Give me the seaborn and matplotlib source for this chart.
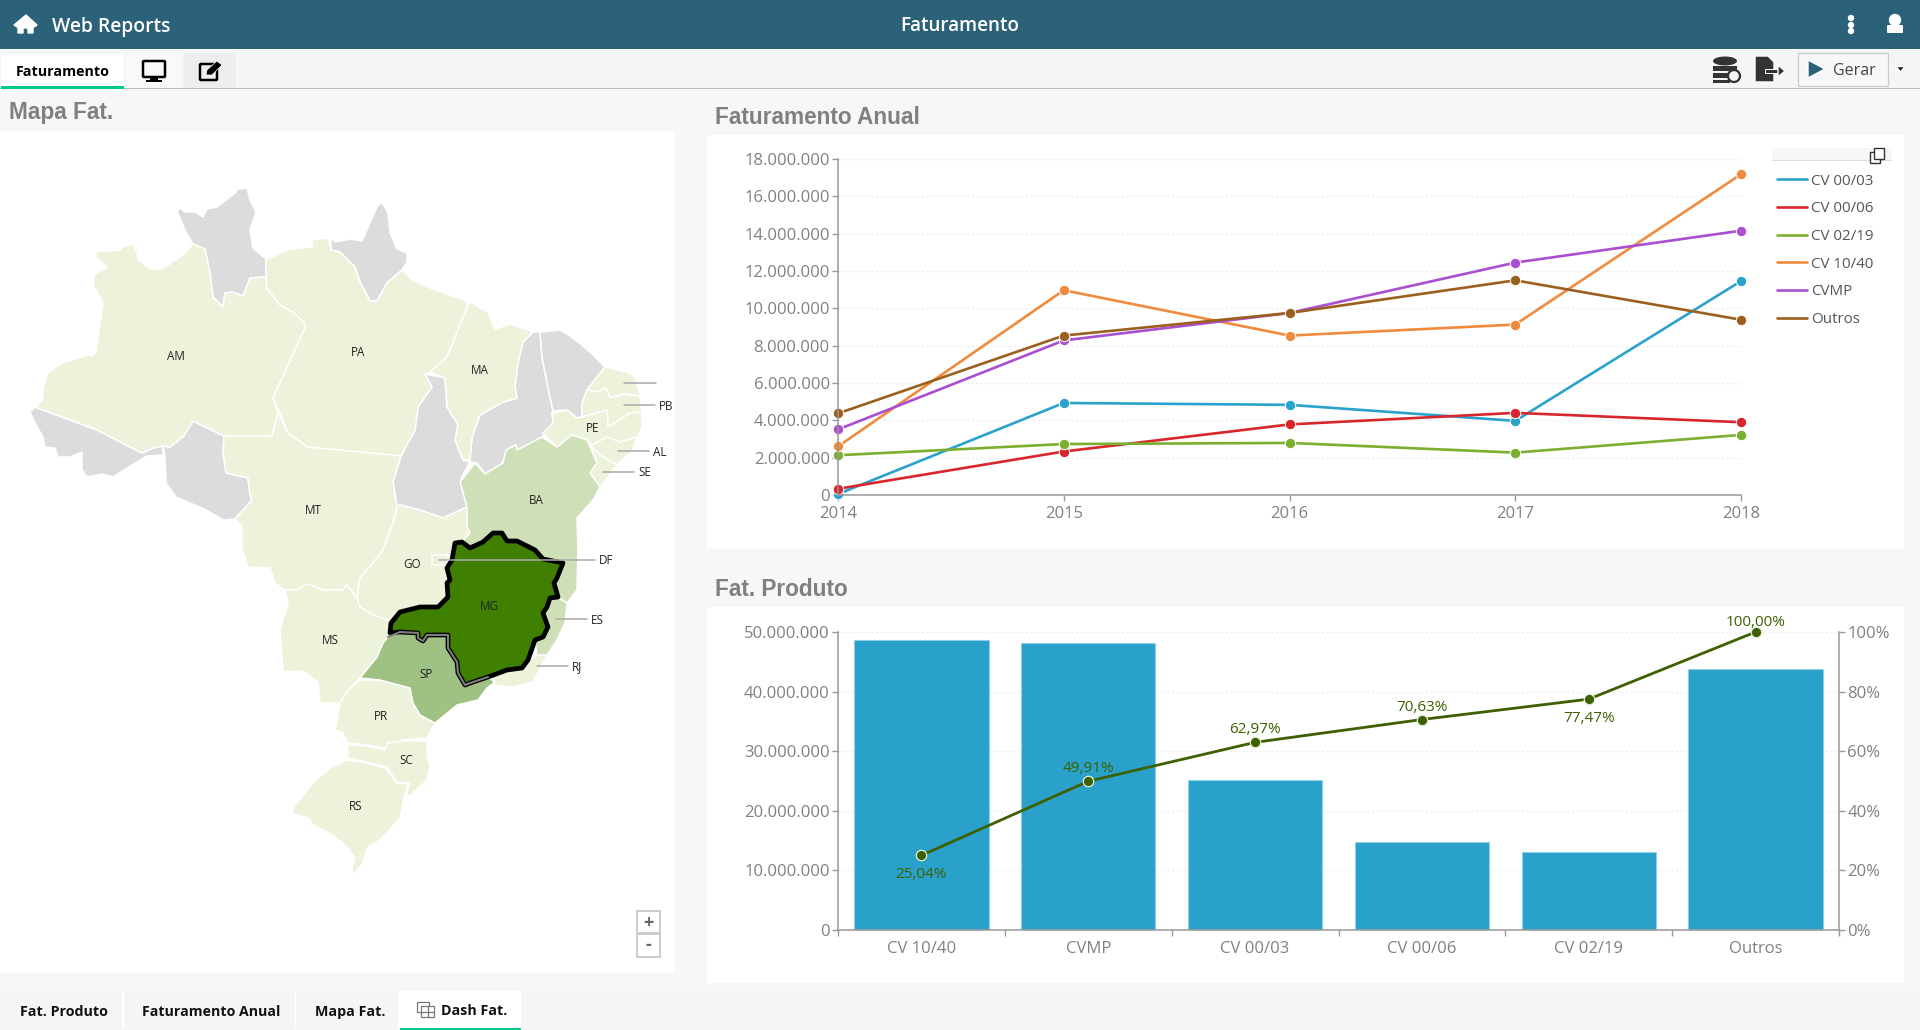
import matplotlib
matplotlib.use("Agg")
import matplotlib.pyplot as plt
import seaborn as sns
import pandas as pd
from matplotlib.patches import Polygon, Rectangle, Circle, FancyBboxPatch, Ellipse
from matplotlib.lines import Line2D
from matplotlib.ticker import FuncFormatter, FixedLocator, NullFormatter

# ---------- data ----------
years = [2014, 2015, 2016, 2017, 2018]
cv_0003 = [50000, 4930000, 4830000, 3970000, 11460000]
cv_0006 = [330000, 2330000, 3780000, 4400000, 3900000]
cv_0219 = [2130000, 2730000, 2790000, 2270000, 3220000]
cv_1040 = [2600000, 10970000, 8540000, 9130000, 17180000]
cvmp = [3510000, 8280000, 9750000, 12450000, 14160000]
outros = [4370000, 8540000, 9750000, 11500000, 9390000]
series_names = ["CV 00/03", "CV 00/06", "CV 02/19", "CV 10/40", "CVMP", "Outros"]
series_colors = ["#2AA2CC", "#D9262C", "#7CAF31", "#F08A3C", "#A94FD0", "#9B5F1E"]

products = ["CV 10/40", "CVMP", "CV 00/03", "CV 00/06", "CV 02/19", "Outros"]
product_totals = [48600000, 48200000, 25200000, 14700000, 13050000, 43800000]
cumulative_pct = [25.04, 49.91, 62.97, 70.63, 77.47, 100.00]
label_below = [True, False, False, False, True, False]

# map outlines
AM_xy = [(35,407),(43,400),(43,388),(48,373),(62,363),(88,355),(92,356),(96,352),(103,303),(93,285),(94,275),(98,272),(107,268),(96,257),(96,252),(120,250),(122,247),(132,244),(137,252),(138,260),(150,269),(162,269),(183,255),(193,244),(205,249),(210,273),(213,297),(223,307),(225,293),(232,292),(243,296),(250,278),(266,277),(267,288),(280,305),(293,312),(304,322),(305,328),(273,398),(278,413),(272,436),(224,436),(193,421),(183,437),(170,447),(163,446),(153,448),(142,453),(97,430),(70,420)]
AC_xy = [(30,412),(35,407),(70,420),(97,430),(142,453),(153,448),(163,446),(163,455),(147,456),(132,465),(113,477),(103,474),(87,477),(82,470),(82,452),(70,457),(58,457),(55,448),(45,447),(43,437),(35,423)]
RO_xy = [(193,421),(224,436),(223,453),(226,473),(248,478),(250,495),(252,500),(235,519),(224,520),(202,508),(176,497),(166,483),(165,457),(163,446),(170,447),(183,437)]
RR_xy = [(177,211),(180,208),(185,212),(195,212),(203,217),(207,209),(217,207),(235,193),(238,189),(247,188),(250,200),(256,212),(250,230),(253,248),(266,259),(266,277),(250,278),(243,296),(232,292),(225,293),(223,307),(213,297),(210,273),(205,249),(193,244),(186,232),(182,223)]
PA_xy = [(266,259),(272,257),(290,249),(312,247),(312,240),(328,238),(331,250),(340,252),(355,267),(360,282),(370,301),(377,301),(387,283),(402,270),(413,280),(430,288),(467,301),(467,308),(458,330),(447,357),(430,372),(425,374),(432,387),(418,407),(415,430),(401,456),(360,452),(307,447),(288,433),(280,413),(273,398),(305,328),(304,322),(293,312),(280,305),(267,288),(266,277)]
AP_xy = [(331,238),(335,242),(350,239),(362,241),(377,207),(382,202),(388,213),(390,233),(397,249),(407,253),(407,262),(402,270),(387,283),(377,301),(370,301),(360,282),(355,267),(340,252),(331,250)]
MA_xy = [(467,308),(468,303),(473,303),(480,308),(488,312),(495,329),(510,324),(533,332),(523,342),(518,363),(515,387),(517,398),(503,402),(480,415),(472,437),(470,460),(463,460),(455,440),(458,425),(447,407),(445,378),(430,372),(447,357),(458,330)]
TO_xy = [(425,374),(445,378),(447,407),(458,425),(455,440),(463,460),(470,462),(461,478),(467,507),(443,518),(420,510),(400,505),(397,507),(393,482),(401,456),(415,430),(418,407),(432,387)]
PI_xy = [(533,332),(540,332),(542,357),(547,383),(553,411),(552,413),(553,423),(542,437),(527,447),(517,450),(516,445),(506,450),(503,463),(485,474),(477,463),(470,462),(470,460),(472,437),(480,415),(503,402),(517,398),(515,387),(518,363),(523,342)]
CE_xy = [(540,332),(560,330),(573,338),(590,352),(605,367),(597,377),(587,390),(582,403),(582,417),(577,418),(567,410),(553,411),(547,383),(542,357)]
RN_xy = [(605,367),(627,372),(635,377),(640,396),(625,394),(617,396),(610,398),(606,388),(597,392),(587,390),(597,377)]
PB_xy = [(587,390),(597,392),(606,388),(610,398),(617,396),(625,394),(640,396),(642,412),(630,413),(608,427),(607,410),(582,417),(582,403)]
PE_xy = [(543,433),(553,423),(552,413),(567,410),(577,418),(582,417),(607,410),(608,427),(630,413),(642,412),(642,427),(637,437),(620,442),(607,437),(592,445),(587,440),(572,435),(557,447)]
AL_xy = [(592,445),(607,437),(620,442),(637,437),(633,450),(617,465),(600,455),(590,450)]
SE_xy = [(592,447),(600,455),(617,465),(600,487),(590,473),(597,463)]
BA_xy = [(460,482),(475,463),(485,474),(503,463),(506,450),(516,445),(517,450),(542,437),(557,447),(572,435),(587,440),(597,463),(590,473),(600,487),(593,500),(577,518),(578,550),(577,590),(567,603),(558,597),(554,583),(563,563),(543,559),(535,550),(517,541),(507,541),(502,533),(493,533),(483,542),(470,548),(462,542),(470,533),(467,527),(467,507)]
MT_xy = [(224,436),(272,436),(278,413),(288,433),(307,447),(360,452),(401,456),(393,482),(397,507),(393,523),(382,552),(360,578),(357,598),(347,585),(343,590),(323,590),(308,584),(297,590),(285,590),(275,583),(270,568),(248,567),(242,548),(242,527),(235,519),(252,500),(250,495),(248,478),(226,473),(223,453)]
GO_xy = [(397,507),(400,505),(420,510),(443,518),(467,507),(467,527),(470,533),(462,542),(455,543),(452,560),(447,568),(450,580),(447,583),(448,597),(438,607),(420,607),(400,612),(391,623),(388,620),(373,615),(360,607),(357,598),(360,578),(382,552),(393,523)]
DF_xy = [(432,555),(448,555),(448,565),(432,565)]
MS_xy = [(285,590),(297,590),(308,584),(323,590),(343,590),(347,585),(357,598),(360,607),(373,615),(388,620),(391,623),(388,637),(383,643),(377,657),(360,678),(348,690),(340,703),(320,703),(318,682),(303,671),(283,672),(282,657),(280,630),(288,603)]
SP_xy = [(388,637),(400,632),(418,633),(418,638),(423,641),(427,635),(448,635),(448,648),(457,662),(458,673),(465,685),(473,682),(488,677),(495,682),(487,688),(478,700),(457,705),(435,723),(420,715),(413,703),(410,688),(380,680),(360,678),(377,657),(383,643)]
RJ_xy = [(488,677),(507,670),(522,668),(528,662),(537,655),(547,655),(543,663),(533,682),(513,687),(493,685),(487,690),(495,682)]
ES_xy = [(535,640),(543,637),(548,627),(543,613),(547,607),(550,598),(558,597),(567,603),(565,623),(557,640),(547,655),(537,655)]
MG_xy = [(390,633),(391,623),(400,612),(420,607),(438,607),(448,597),(447,583),(450,580),(447,568),(452,560),(455,543),(462,542),(470,548),(483,542),(493,533),(502,533),(507,541),(517,541),(535,550),(543,559),(563,563),(557,578),(554,583),(558,597),(550,598),(547,607),(543,613),(548,627),(543,637),(535,640),(528,660),(522,668),(507,670),(488,677),(473,682),(465,685),(458,673),(457,662),(448,648),(448,635),(427,635),(423,641),(418,638),(418,633),(400,632)]
MG_SP_border = [(388,637),(400,632),(418,633),(418,638),(423,641),(427,635),(448,635),(448,648),(457,662),(458,673),(465,685),(473,682),(488,677)]
PR_xy = [(360,680),(380,680),(410,688),(413,703),(420,715),(435,723),(427,738),(403,740),(385,748),(367,745),(348,743),(343,733),(335,730),(340,703),(348,690)]
SC_xy = [(348,745),(367,746),(385,750),(387,743),(403,741),(427,741),(427,757),(430,767),(427,780),(413,793),(406,798),(409,783),(397,782),(387,767),(367,762),(348,758)]
RS_xy = [(347,760),(367,763),(385,768),(397,783),(408,784),(404,798),(400,818),(380,840),(367,848),(363,863),(353,875),(352,867),(355,858),(347,847),(333,835),(313,825),(308,818),(292,813),(293,808),(313,783),(330,768)]

GRAY, LIGHT, MID, STRONG, TOP = "#DCDCDC", "#EDF2DA", "#CFDFB7", "#9FC183", "#3F8000"
map_regions = [(AC_xy, GRAY), (RO_xy, GRAY), (RR_xy, GRAY), (AP_xy, GRAY), (TO_xy, GRAY), (PI_xy, GRAY), (CE_xy, GRAY),
               (AM_xy, LIGHT), (PA_xy, LIGHT), (MA_xy, LIGHT), (RN_xy, LIGHT), (PB_xy, LIGHT), (PE_xy, LIGHT),
               (AL_xy, LIGHT), (SE_xy, LIGHT), (MT_xy, LIGHT), (GO_xy, LIGHT), (DF_xy, LIGHT), (MS_xy, LIGHT),
               (RJ_xy, LIGHT), (ES_xy, MID), (PR_xy, LIGHT), (SC_xy, LIGHT), (RS_xy, LIGHT), (BA_xy, MID), (SP_xy, STRONG)]
map_labels = [("AM",176,356),("PA",358,352),("MA",480,371),("MT",313,510),("GO",412,564),("BA",536,501),("MG",489,607),
              ("MS",330,640),("SP",426,674),("PR",381,716),("SC",406,761),("RS",356,806),("PE",593,429)]
map_leaders = [("",624,656,383),("PB",624,655,405),("AL",618,649,451),("SE",603,634,472),("DF",439,595,560),("ES",556,587,619),("RJ",537,568,666)]

# ---------- theme ----------
sns.set_theme(style="white")
plt.rcParams["font.family"] = ["Open Sans", "DejaVu Sans"]
W, H = 1920, 1030
fig = plt.figure(figsize=(W / 100, H / 100), dpi=100, facecolor="#F7F7F7")


def axpx(x0, y0, x1, y1, **kw):
    return fig.add_axes([x0 / W, 1 - y1 / H, (x1 - x0) / W, (y1 - y0) / H], **kw)


# ---------- application chrome ----------
ui = axpx(0, 0, W, H, zorder=0)
ui.set_xlim(0, W); ui.set_ylim(H, 0); ui.axis("off")


def rect(x0, y0, x1, y1, fc, ec="none", lw=0, z=1):
    ui.add_patch(Rectangle((x0, y0), x1 - x0, y1 - y0, fc=fc, ec=ec, lw=lw, zorder=z))


HEAD = "#2C6279"
TEAL = "#00C98D"
rect(0, 0, W, 49, HEAD)
rect(0, 49, W, 88, "#F5F5F5")
rect(0, 88, W, 89.2, "#BDBDBD")
rect(0, 131, 675, 973, "white")
rect(707, 135, 1904, 549, "white")
rect(707, 607, 1904, 983, "white")
# tabs
rect(1, 53, 124, 88, "white"); rect(1, 85.5, 124, 88.5, TEAL)
rect(126, 53, 182, 88, "#F9F9F9"); rect(184, 53, 236, 88, "#EEEEEE")
rect(0, 991, W, H, "#F5F5F5")
rect(1, 991, 122, 1028, "#F5F5F5"); rect(122, 991, 124, 1028, "white")
rect(295, 991, 296, 1028, "white"); rect(398, 991, 400, 1028, "white")
rect(400, 991, 521, H, "white"); rect(400, 1027.5, 521, H, TEAL)


def label(x, y, s, size, color="black", weight="normal", ha="left", family=None):
    ui.text(x, y, s, fontsize=size, color=color, fontweight=weight, ha=ha, va="center",
            family=family or ["Open Sans", "DejaVu Sans"], zorder=6)


label(52, 27, "Web Reports", 13.9, "white", 600)
label(960, 26, "Faturamento", 13.6, "white", 600, "center")
label(62.5, 72.5, "Faturamento", 10.3, "black", "bold", "center")
label(64, 1012, "Fat. Produto", 10.3, "#111111", "bold", "center")
label(211, 1012, "Faturamento Anual", 10.2, "#111111", "bold", "center")
label(350, 1012, "Mapa Fat.", 10.3, "#111111", "bold", "center")
label(441, 1011, "Dash Fat.", 10.3, "#111111", "bold")
label(1833, 71, "Gerar", 11.5, "#444444")
label(9, 113, "Mapa Fat.", 16.3, "#808080", "bold", family=["Liberation Sans"])
label(715, 118, "Faturamento Anual", 16.3, "#808080", "bold", family=["Liberation Sans"])
label(715, 589, "Fat. Produto", 16.3, "#808080", "bold", family=["Liberation Sans"])

# icons
ui.add_patch(Polygon([(14, 25), (26, 15), (37, 25), (34, 27), (26, 20), (17, 27)], fc="white", zorder=5))
ui.add_patch(Polygon([(18, 26), (26, 20), (33, 26), (33, 33), (28, 33), (28, 28), (23, 28), (23, 33), (18, 33)], fc="white", zorder=5))
for yy in (18, 25, 31):
    ui.add_patch(Circle((1851, yy), 2.5, fc="white", zorder=5))
ui.add_patch(Circle((1895, 20), 5.5, fc="white", zorder=5))
ui.add_patch(FancyBboxPatch((1888, 26), 14, 6, boxstyle="round,pad=1", fc="white", ec="none", zorder=5))
# monitor
ui.add_patch(FancyBboxPatch((144, 62), 20, 14, boxstyle="round,pad=1", fc="none", ec="black", lw=1.8, zorder=5))
rect(150, 78, 158, 80, "black", z=5); rect(146, 80, 162, 81.5, "black", z=5)
# edit
ui.add_patch(FancyBboxPatch((201, 65), 15, 14, boxstyle="round,pad=1", fc="none", ec="black", lw=1.8, zorder=5))
ui.add_patch(Polygon([(206, 75), (207, 70), (217, 61), (222, 65), (212, 75)], fc="black", ec="white", lw=0.5, zorder=6))
# database
ui.add_patch(Ellipse((1725, 61), 24, 9, fc="#333333", ec="none", zorder=5))
rect(1713, 66, 1737, 71, "#333333", z=5)
rect(1713, 73, 1735, 78, "#333333", z=5)
rect(1713, 79.5, 1730, 83, "#333333", z=5)
ui.add_patch(Circle((1734, 76), 6, fc="#F5F5F5", ec="#333333", lw=1.6, zorder=6))
# export
ui.add_patch(Polygon([(1755, 56), (1768, 56), (1774, 62), (1774, 82), (1755, 82)], fc="#333333", zorder=5))
rect(1765, 69, 1780, 73, "#333333", ec="white", lw=0.7, z=6)
ui.add_patch(Polygon([(1778, 65), (1785, 71), (1778, 77)], fc="#333333", zorder=6))
# button
rect(1798, 53, 1887.5, 85.5, "#F7F7F7", ec="#CCCCCC", lw=0.9)
ui.add_patch(Polygon([(1808, 60), (1808, 78), (1825, 69)], fc="#2C6279", zorder=5))
ui.add_patch(Polygon([(1896, 66.5), (1905, 66.5), (1900.5, 72)], fc="#222222", zorder=5))
# dash-tab icon
rect(417, 1002, 429, 1012, "none", ec="#777777", lw=0.9, z=5)
rect(421, 1006, 434, 1017, "white", ec="#777777", lw=0.9, z=6)
ui.plot([427.5, 427.5], [1006, 1017], color="#777777", lw=0.9, zorder=7)
ui.plot([421, 434], [1011.5, 1011.5], color="#777777", lw=0.9, zorder=7)
# zoom control
rect(637, 911, 660, 933, "white", ec="#CCCCCC", lw=1.4, z=4)
rect(637, 934, 660, 957, "white", ec="#CCCCCC", lw=1.4, z=4)
label(648.5, 923, "+", 13, "#666666", "bold", "center")
label(648.5, 945, "-", 13, "#666666", "bold", "center")
# legend header
rect(1772, 148, 1892, 160, "#F6F6F6")
rect(1772, 160, 1892, 161, "#DDDDDD")
rect(1870, 152, 1880, 163, "white", ec="#333333", lw=1, z=5)
rect(1874, 148, 1884, 159, "white", ec="#333333", lw=1, z=6)

# ---------- map ----------
for pts, col in map_regions:
    ui.add_patch(Polygon(pts, closed=True, fc=col, ec="white", lw=1.1, joinstyle="round", zorder=2))
ui.add_patch(Polygon(MG_xy, closed=True, fc=TOP, ec="black", lw=3.4, joinstyle="round", zorder=3))
ui.plot(*zip(*MG_SP_border), color="#7E7E7E", lw=1.5, zorder=4, solid_joinstyle="round")
for name, x, y in map_labels:
    label(x, y, name, 8.4, "#222222", ha="center")
for name, x0, x1, y in map_leaders:
    ui.plot([x0, x1], [y, y], color="#AAAAAA", lw=1.1, zorder=5)
    label(x1 + 4, y + 1, name, 8.4, "#222222")

TICK = "#808080"
AXIS = "#999999"
GRID = "#EEEEEE"
dotted = FuncFormatter(lambda v, _: f"{v:,.0f}".replace(",", "."))


def style_axis(ax):
    ax.patch.set_alpha(0)
    sns.despine(ax=ax)
    for s in ("left", "bottom"):
        ax.spines[s].set_color(AXIS)
        ax.spines[s].set_linewidth(1.1)
    ax.set_xlabel(""); ax.set_ylabel("")
    ax.set_axisbelow(True)
    ax.grid(axis="y", color=GRID, lw=1.0, ls=(0, (1.5, 1.5)))
    ax.grid(axis="x", visible=False)


# ---------- line chart ----------
ax1 = axpx(838, 159, 1741, 495, zorder=2)
frame = pd.DataFrame({
    "Ano": years * 6,
    "Valor": cv_0003 + cv_0006 + cv_0219 + cv_1040 + cvmp + outros,
    "Serie": [n for n in series_names for _ in years],
})
sns.lineplot(data=frame, x="Ano", y="Valor", hue="Serie", hue_order=series_names, palette=series_colors,
             marker="o", markersize=7.5, markeredgecolor="white", markeredgewidth=0.7, linewidth=1.9,
             legend=False, errorbar=None, ax=ax1)
for ln in ax1.get_lines():
    ln.set_clip_on(False)
ax1.set_xlim(2014, 2018)
ax1.set_ylim(0, 18000000)
ax1.set_xticks(years)
ax1.set_yticks(range(0, 18000001, 2000000))
ax1.yaxis.set_major_formatter(dotted)
style_axis(ax1)
ax1.tick_params(axis="both", labelsize=12, labelcolor=TICK, color=AXIS, length=4.5, width=1, bottom=True, left=True, pad=1.5)
ax1.tick_params(axis="x", pad=3.5)
handles = [Line2D([], [], color=c, lw=1.9) for c in series_colors]
leg = ax1.legend(handles, series_names, loc="upper left", bbox_to_anchor=(1772 / W, 1 - 169 / H),
                 bbox_transform=fig.transFigure, frameon=False, fontsize=10.9, labelcolor="#555555",
                 handlelength=2.0, handletextpad=0.3, labelspacing=0.84, borderpad=0.3, borderaxespad=0)

# ---------- bar + cumulative line ----------
ax2 = axpx(838, 632, 1839, 930, zorder=2)
sns.barplot(x=products, y=product_totals, color="#29A1CB", saturation=1, width=0.805, edgecolor="#8FD0E6",
            linewidth=0.8, errorbar=None, ax=ax2)
ax2.set_xlim(-0.5, 5.5)
ax2.set_ylim(0, 50000000)
ax2.yaxis.set_major_formatter(dotted)
style_axis(ax2)
ax2.tick_params(axis="y", labelsize=12, labelcolor=TICK, color=AXIS, length=4.5, width=1, left=True, pad=1.5)
ax2.xaxis.set_major_locator(FixedLocator([i - 0.5 for i in range(7)]))
ax2.xaxis.set_major_formatter(NullFormatter())
ax2.xaxis.set_minor_locator(FixedLocator(list(range(6))))
ax2.xaxis.set_minor_formatter(FuncFormatter(lambda v, _: products[int(round(v))]))
ax2.tick_params(axis="x", which="major", bottom=True, color=AXIS, length=4.5, width=1)
ax2.tick_params(axis="x", which="minor", bottom=False, labelsize=12, labelcolor=TICK, pad=4)

ax3 = ax2.twinx()
ax3.patch.set_alpha(0)
line_color = "#3D6000"
sns.lineplot(x=list(range(6)), y=cumulative_pct, color=line_color, linewidth=2, marker="o", markersize=7.5,
             markeredgecolor="#E4EED8", markeredgewidth=0.9, errorbar=None, ax=ax3)
for ln in ax3.get_lines():
    ln.set_clip_on(False)
ax3.set_xlim(-0.5, 5.5)
ax3.set_ylim(0, 100)
ax3.set_yticks(range(0, 101, 20))
ax3.yaxis.set_major_formatter(FuncFormatter(lambda v, _: f"{v:.0f}%"))
ax3.set_ylabel("")
ax3.grid(False)
for s in ("top", "left", "bottom"):
    ax3.spines[s].set_visible(False)
ax3.spines["right"].set_visible(True)
ax3.spines["right"].set_color(AXIS)
ax3.spines["right"].set_linewidth(1.1)
ax3.tick_params(axis="y", labelsize=12, labelcolor=TICK, color=AXIS, length=4.5, width=1, right=True, pad=1.5)
for i, (v, below) in enumerate(zip(cumulative_pct, label_below)):
    off = -8.5 if below else (1.5 if v >= 100 else 3.5)
    ax3.annotate(f"{v:.2f}".replace(".", ",") + "%", (i, v), xytext=(0, off), textcoords="offset points",
                 ha="center", va="top" if below else "bottom", fontsize=11, color=line_color, fontweight=500,
                 annotation_clip=False)

fig.savefig("out.png", dpi=100, facecolor=fig.get_facecolor())
